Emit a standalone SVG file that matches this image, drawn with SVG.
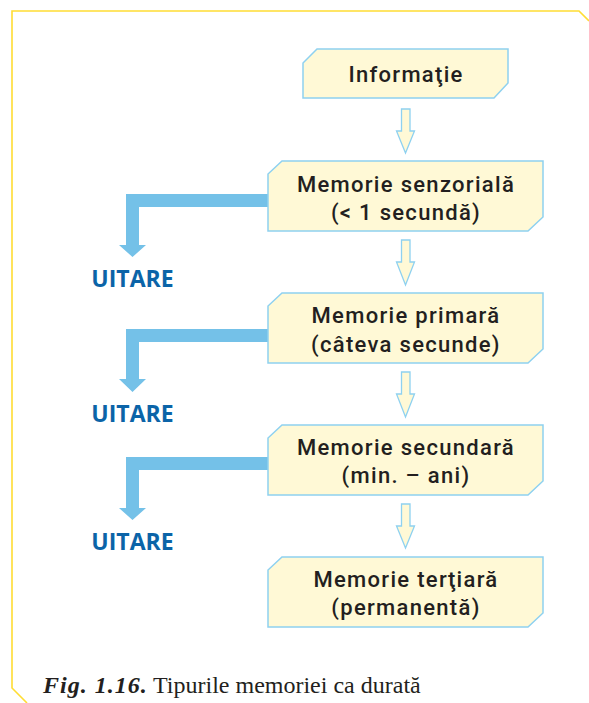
<svg xmlns="http://www.w3.org/2000/svg" width="589" height="703" viewBox="0 0 589 703">
<style>
.box{fill:#FFF9D6;stroke:#8ED1F0;stroke-width:1.5}
.t{font-family:Roboto,"Open Sans",sans-serif;font-weight:500;font-size:22px;letter-spacing:1.3px;fill:#231F20;text-anchor:middle}
.hol{fill:#FFF9D6;stroke:#8ED1F0;stroke-width:1.3}
.blue{fill:#74C1E8}
.u{font-family:"Open Sans","Noto Sans",sans-serif;font-weight:700;font-size:23px;fill:#0B64A8;text-anchor:middle}
.cap{font-family:"Liberation Serif",serif;font-size:24px;fill:#231F20}
</style>
<polyline points="27,703 12,688 12,11 579,11 589,21" fill="none" stroke="#FFDD33" stroke-width="1.6"/>
<g id="connectors">
<path class="blue" d="M268,194 H126 V245 H119 L132.5,257 L146,245 H139 V207 H268 Z"/>
<path class="blue" d="M268,329 H126 V379 H119 L132.5,392 L146,379 H139 V342 H268 Z"/>
<path class="blue" d="M268,457 H126 V508 H119 L132.5,520 L146,508 H139 V470 H268 Z"/>
<path class="hol" d="M401.5,109 H410 V131 H414.5 L405.5,153 L396.5,131 H401.5 Z"/>
<path class="hol" d="M401.5,240 H410 V262 H414.5 L405.5,285 L396.5,262 H401.5 Z"/>
<path class="hol" d="M401.5,372 H410 V394 H414.5 L405.5,417 L396.5,394 H401.5 Z"/>
<path class="hol" d="M401.5,504 H410 V526 H414.5 L405.5,548 L396.5,526 H401.5 Z"/>
</g>
<g id="informatie">
<path class="box" d="M317,49 H508 V83 L494,98 H303 V63 Z"/>
<text class="t" x="406" y="82">Informaţie</text>
</g>
<g id="senzoriala">
<path class="box" d="M282,161 H543 V217 L528,231 H268 V174 Z"/>
<text class="t" x="406" y="192">Memorie senzorială</text>
<text class="t" x="406" y="220">(&lt; 1 secundă)</text>
</g>
<g id="primara">
<path class="box" d="M282,293 H543 V349 L528,363 H268 V306 Z"/>
<text class="t" x="406" y="323">Memorie primară</text>
<text class="t" x="406" y="352">(câteva secunde)</text>
</g>
<g id="secundara">
<path class="box" d="M282,425 H543 V481 L528,495 H268 V438 Z"/>
<text class="t" x="406" y="455">Memorie secundară</text>
<text class="t" x="406" y="483">(min. – ani)</text>
</g>
<g id="tertiara">
<path class="box" d="M282,557 H543 V613 L528,627 H268 V570 Z"/>
<text class="t" x="406" y="587">Memorie terţiară</text>
<text class="t" x="406" y="615">(permanentă)</text>
</g>
<g id="uitare1"><text class="u" x="132.5" y="287">UITARE</text></g>
<g id="uitare2"><text class="u" x="132.5" y="422">UITARE</text></g>
<g id="uitare3"><text class="u" x="132.5" y="550">UITARE</text></g>
<g id="caption">
<text class="cap" x="43" y="693"><tspan font-weight="700" font-style="italic" letter-spacing="1">Fig. 1.16.</tspan><tspan x="153">Tipurile memoriei ca durată</tspan></text>
</g>
</svg>
